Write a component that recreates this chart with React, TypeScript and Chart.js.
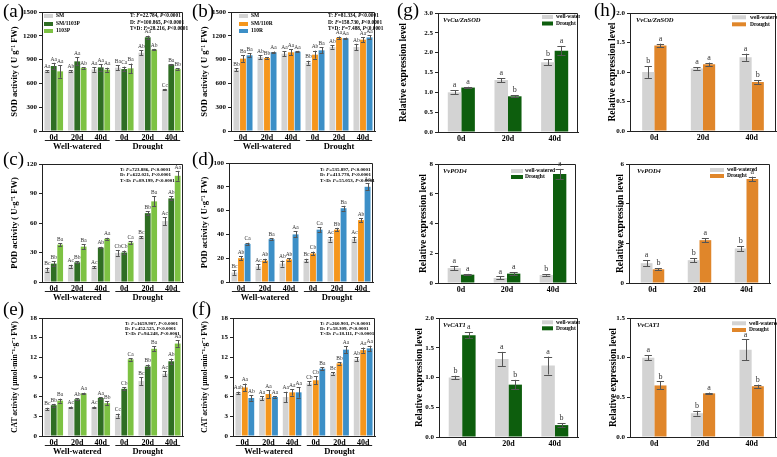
import React, { useEffect, useRef } from "react";
import { Chart, registerables } from "chart.js";
Chart.register(...registerables);

const FONT = "'Liberation Serif', 'Times New Roman', serif";
const AXIS = "#222";
const GRAY = "#d3d3d3";
const DKGREEN = "#2f6e23";
const LTGREEN = "#7dc243";
const ORANGE = "#f5961c";
const BLUE = "#3c8fc7";
const GGREEN = "#0d5e0d";
const HORANGE = "#e0862a";

const CATS6 = ["0d", "20d", "40d", "0d", "20d", "40d"];
const DAYS = ["0d", "20d", "40d"];
const GROUPS = ["Well-watered", "Drought"];

// (a) SOD, SM / SM/1103P / 1103P
const A_SM = [756, 756, 777, 798, 987, 521];
const A_SMP = [819, 878, 802, 781, 1181, 840];
const A_P = [752, 794, 773, 790, 1025, 781];
const A_SM_E = [10, 10, 30, 30, 30, 10];
const A_SMP_E = [40, 50, 40, 30, 20, 5];
const A_P_E = [80, 10, 25, 60, 10, 10];
const A_SM_L = ["Aa", "Ab", "Aa", "Ba", "Ab", "Cc"];
const A_SMP_L = ["Aa", "Aa", "Aa", "Ca", "Aa", "Ba"];
const A_P_L = ["Aa", "Ab", "Aa", "Ba", "Ab", "Bb"];
const A_STATS = ["T: F=22.784, P<0.0001", "D: F=100.865, P<0.0001", "T\u00d7D: F=28.216, P<0.0001"];

// (b) SOD, SM / SM/110R / 110R
const B_SM = [773, 933, 975, 861, 1059, 1059];
const B_SMR = [912, 920, 992, 962, 1176, 1151];
const B_R = [954, 992, 1000, 1017, 1168, 1180];
const B_SM_E = [20, 25, 30, 25, 20, 40];
const B_SMR_E = [40, 10, 40, 50, 15, 30];
const B_R_E = [25, 10, 10, 40, 10, 25];
const B_SM_L = ["Bb", "Ab", "Aa", "Bb", "Ab", "Ab"];
const B_SMR_L = ["Ba", "Bb", "Aa", "Ab", "Aa", "Aa"];
const B_R_L = ["Ba", "Aa", "Aa", "Ba", "Aa", "Aa"];
const B_STATS = ["T: F=81.334, P<0.0001", "D: F=158.730, P<0.0001", "T\u00d7D: F=7.488, P<0.0001"];

// (c) POD
const C_SM = [12.6, 16, 15, 29.6, 45.6, 62];
const C_SMP = [18.7, 20, 35, 30, 70, 85];
const C_P = [38, 36, 44, 40, 82, 108];
const C_SM_E = [2, 1.5, 1, 3, 1, 4];
const C_SMP_E = [2.5, 1, 0.8, 2, 2, 2];
const C_P_E = [1.5, 2.5, 1, 1.5, 5, 5];
const C_SM_L = ["Bc", "Ac", "Ac", "Cb", "Bc", "Ac"];
const C_SMP_L = ["Bb", "Bb", "Ab", "Cb", "Bb", "Ab"];
const C_P_L = ["Ba", "Ba", "Aa", "Ca", "Ba", "Aa"];
const C_STATS = ["T: F=723.886, P<0.0001", "D: F=622.021, P<0.0001", "T\u00d7D: F=89.199, P<0.0001"];

// (d) POD
const D_SM = [8, 13, 15.5, 18, 36, 36];
const D_SMR = [20, 18, 19, 24, 44, 52];
const D_R = [32, 36, 40, 44, 62, 80];
const D_SM_E = [2, 2, 2.5, 1.5, 2, 2];
const D_SMR_E = [1.5, 1.5, 1, 1.5, 1.5, 1.5];
const D_R_E = [1, 1, 2.5, 2, 2, 3];
const D_SM_L = ["Bc", "Ac", "Ab", "Bc", "Ac", "Ac"];
const D_SMR_L = ["Ab", "Ab", "Ab", "Cb", "Bb", "Ab"];
const D_R_L = ["Ca", "Ba", "Aa", "Ca", "Ba", "Aa"];
const D_STATS = ["T: F=535.897, P<0.0001", "D: F=413.778, P<0.0001", "T\u00d7D: F=55.053, P<0.0001"];

// (e) CAT
const E_SM = [4.1, 4.4, 4.4, 3.1, 8.4, 9.5];
const E_SMP = [4.7, 5.6, 5.8, 7.2, 10.6, 11.4];
const E_P = [5.4, 6.5, 5.0, 11.7, 13.3, 14.1];
const E_SM_E = [0.2, 0.1, 0.1, 0.3, 0.6, 0.4];
const E_SMP_E = [0.2, 0.15, 0.15, 0.2, 0.3, 0.4];
const E_P_E = [0.3, 0.1, 0.3, 0.2, 0.4, 0.5];
const E_SM_L = ["Bc", "Ac", "Ac", "Cc", "Bc", "Ac"];
const E_SMP_L = ["Bb", "Ab", "Aa", "Cb", "Bb", "Ab"];
const E_P_L = ["Ba", "Aa", "Bb", "Ca", "Ba", "Aa"];
const E_STATS = ["T: F=1659.907, P<0.0001", "D: F=452.525, P<0.0001", "T\u00d7D: F=94.248, P<0.0001"];

// (f) CAT
const F_SM = [6.56, 5.8, 5.95, 8.03, 9.56, 11.7];
const F_SMR = [7.4, 6.4, 6.66, 8.5, 11.08, 13.1];
const F_R = [5.8, 5.95, 6.66, 10.27, 13.17, 13.37];
const F_SM_E = [0.2, 0.3, 0.8, 0.3, 0.2, 0.3];
const F_SMR_E = [0.6, 0.6, 0.5, 0.6, 0.2, 0.4];
const F_R_E = [0.4, 0.1, 0.8, 0.2, 0.5, 0.4];
const F_SM_L = ["Aab", "Aa", "Aa", "Cb", "Bc", "Ab"];
const F_SMR_L = ["Aa", "Aa", "Aa", "Cb", "Bb", "Aa"];
const F_R_L = ["Ab", "Aa", "Aa", "Ba", "Aa", "Aa"];
const F_STATS = ["T: F=260.903, P<0.0001", "D: F=58.309, P<0.0001", "T\u00d7D: F=18.111, P<0.0001"];

// (g) gene expression, SM/1103P
const G1_WW = [1.0, 1.31, 1.76];
const G1_DR = [1.12, 0.9, 2.05];
const G1_WW_E = [0.05, 0.05, 0.08];
const G1_DR_E = [0.02, 0.03, 0.12];
const G1_WW_L = ["a", "a", "b"];
const G1_DR_L = ["a", "b", "a"];
const G2_WW = [1.0, 0.34, 0.54];
const G2_DR = [0.56, 0.63, 7.32];
const G2_WW_E = [0.15, 0.1, 0.05];
const G2_DR_E = [0.05, 0.1, 0.35];
const G2_WW_L = ["a", "a", "b"];
const G2_DR_L = ["a", "a", "a"];
const G3_WW = [1.0, 1.31, 1.2];
const G3_DR = [1.71, 0.88, 0.2];
const G3_WW_E = [0.03, 0.12, 0.15];
const G3_DR_E = [0.05, 0.08, 0.03];
const G3_WW_L = ["b", "a", "a"];
const G3_DR_L = ["a", "b", "b"];

// (h) gene expression, SM/110R
const H1_WW = [1.0, 1.06, 1.25];
const H1_DR = [1.45, 1.13, 0.83];
const H1_WW_E = [0.1, 0.02, 0.06];
const H1_DR_E = [0.03, 0.03, 0.03];
const H1_WW_L = ["b", "a", "a"];
const H1_DR_L = ["a", "a", "b"];
const H2_WW = [1.0, 1.15, 1.74];
const H2_DR = [0.69, 2.16, 5.24];
const H2_WW_E = [0.15, 0.1, 0.12];
const H2_DR_E = [0.05, 0.1, 0.12];
const H2_WW_L = ["a", "b", "b"];
const H2_DR_L = ["b", "a", "a"];
const H3_WW = [1.0, 0.3, 1.1];
const H3_DR = [0.65, 0.55, 0.64];
const H3_WW_E = [0.03, 0.03, 0.13];
const H3_DR_E = [0.05, 0.01, 0.02];
const H3_WW_L = ["a", "b", "a"];
const H3_DR_L = ["b", "a", "b"];

type Series = { label: string; color: string; data: number[]; err: number[]; letters: string[] };
type Cfg = {
  id: string;
  canvas: number[];
  area: number[];
  labels: string[];
  series: Series[];
  yMax: number;
  yStep: number;
  dec: number;
  yTitle: string;
  yTitleX: number;
  yTitleSize: number;
  groups: boolean;
  catPct: number;
  barPct: number;
  letterSize: number;
  legend?: { x: number; ys: number[]; sw: number; sh: number; tx: number; size: number };
  stats?: { x: number; ys: number[]; lines: string[]; size: number };
  gene?: { x: number; y: number; text: string };
};

function drawRich(ctx: CanvasRenderingContext2D, text: string, x: number, y: number, size: number) {
  const parts = text.split(/(\b[FP](?=[=<]))/);
  let cx = x;
  for (const p of parts) {
    if (!p) continue;
    const it = /^[FP]$/.test(p);
    ctx.font = `${it ? "italic " : ""}bold ${size}px ${FONT}`;
    ctx.fillText(p, cx, y);
    cx += ctx.measureText(p).width;
  }
}

function extras(cfg: Cfg) {
  return {
    id: "extras",
    afterDraw(chart: any) {
      const ctx: CanvasRenderingContext2D = chart.ctx;
      const { left, top, right, bottom } = chart.chartArea;
      const ox = cfg.canvas[0];
      const oy = cfg.canvas[1];
      const ys = chart.scales.y;
      const xs = chart.scales.x;
      ctx.save();
      // frame
      ctx.strokeStyle = AXIS;
      ctx.lineWidth = 1;
      ctx.beginPath();
      ctx.moveTo(left, top + 0.5);
      ctx.lineTo(right - 0.5, top + 0.5);
      ctx.lineTo(right - 0.5, bottom);
      ctx.stroke();
      // error bars & letters
      cfg.series.forEach((s, i) => {
        const meta = chart.getDatasetMeta(i);
        meta.data.forEach((el: any, j: number) => {
          const v = s.data[j];
          const e = s.err[j];
          const yT = ys.getPixelForValue(v + e);
          const yB = ys.getPixelForValue(Math.max(0, v - e));
          const cap = Math.max(2, el.width * 0.3);
          ctx.strokeStyle = "#555";
          ctx.lineWidth = 1;
          ctx.beginPath();
          ctx.moveTo(Math.round(el.x) + 0.5, yT);
          ctx.lineTo(Math.round(el.x) + 0.5, yB);
          ctx.moveTo(el.x - cap, Math.round(yT) + 0.5);
          ctx.lineTo(el.x + cap, Math.round(yT) + 0.5);
          ctx.moveTo(el.x - cap, Math.round(yB) + 0.5);
          ctx.lineTo(el.x + cap, Math.round(yB) + 0.5);
          ctx.stroke();
          ctx.fillStyle = "#333";
          ctx.font = `${cfg.letterSize}px ${FONT}`;
          ctx.textAlign = "center";
          ctx.textBaseline = "bottom";
          ctx.fillText(s.letters[j], el.x, yT - 1);
        });
      });
      // groups
      if (cfg.groups) {
        const cw = xs.width / 6;
        for (let g = 0; g < 2; g++) {
          const x0 = xs.getPixelForValue(3 * g) - cw * 0.38;
          const x1 = xs.getPixelForValue(3 * g + 2) + cw * 0.38;
          ctx.strokeStyle = AXIS;
          ctx.lineWidth = 1;
          ctx.beginPath();
          ctx.moveTo(x0, bottom + 9.5);
          ctx.lineTo(x1, bottom + 9.5);
          ctx.stroke();
          ctx.fillStyle = "#000";
          ctx.font = `bold 8.5px ${FONT}`;
          ctx.textAlign = "center";
          ctx.textBaseline = "middle";
          ctx.fillText(GROUPS[g], (x0 + x1) / 2, bottom + 15.5);
        }
      }
      // legend
      if (cfg.legend) {
        const L = cfg.legend;
        cfg.series.forEach((s, i) => {
          ctx.fillStyle = s.color;
          ctx.fillRect(L.x - ox, L.ys[i] - oy - L.sh / 2, L.sw, L.sh);
          ctx.fillStyle = "#000";
          ctx.font = `bold ${L.size}px ${FONT}`;
          ctx.textAlign = "left";
          ctx.textBaseline = "middle";
          ctx.fillText(s.label, L.tx - ox, L.ys[i] - oy);
        });
      }
      // stats
      if (cfg.stats) {
        const S = cfg.stats;
        ctx.fillStyle = "#000";
        ctx.textAlign = "left";
        ctx.textBaseline = "middle";
        S.lines.forEach((ln, i) => drawRich(ctx, ln, S.x - ox, S.ys[i] - oy, S.size));
      }
      // gene
      if (cfg.gene) {
        ctx.fillStyle = "#000";
        ctx.textAlign = "left";
        ctx.textBaseline = "middle";
        ctx.font = `italic bold 6.5px ${FONT}`;
        ctx.fillText(cfg.gene.text, cfg.gene.x - ox, cfg.gene.y - oy);
      }
      // y title
      ctx.save();
      ctx.translate(cfg.yTitleX - ox, (top + bottom) / 2);
      ctx.rotate(-Math.PI / 2);
      ctx.fillStyle = "#000";
      ctx.font = `bold ${cfg.yTitleSize}px ${FONT}`;
      ctx.textAlign = "center";
      ctx.textBaseline = "middle";
      ctx.fillText(cfg.yTitle, 0, 0);
      ctx.restore();
      ctx.restore();
    },
  };
}

function Panel({ cfg }: { cfg: Cfg }) {
  const ref = useRef<HTMLCanvasElement>(null);
  useEffect(() => {
    const [cl, ct, cw, ch] = cfg.canvas;
    const [L, T, R, B] = cfg.area;
    const chart = new Chart(ref.current as HTMLCanvasElement, {
      type: "bar",
      data: {
        labels: cfg.labels,
        datasets: cfg.series.map((s) => ({
          label: s.label,
          data: s.data,
          backgroundColor: s.color,
          borderWidth: 0,
          categoryPercentage: cfg.catPct,
          barPercentage: cfg.barPct,
        })),
      },
      options: {
        animation: false,
        responsive: false,
        devicePixelRatio: 1,
        layout: { padding: { left: 0, top: T - ct, right: cl + cw - R, bottom: 0 } },
        plugins: { legend: { display: false }, tooltip: { enabled: false } },
        scales: {
          x: {
            grid: { display: false, drawTicks: false, tickLength: 0 },
            border: { display: true, color: AXIS, width: 1 },
            ticks: { color: "#000", font: { family: FONT, size: 8, weight: "bold" }, padding: 2, maxRotation: 0, autoSkip: false },
            afterFit: (s: any) => {
              s.height = ct + ch - B;
            },
          },
          y: {
            min: 0,
            max: cfg.yMax,
            grid: { display: true, drawOnChartArea: false, drawTicks: true, tickLength: 3, color: AXIS },
            border: { display: true, color: AXIS, width: 1 },
            ticks: {
              stepSize: cfg.yStep,
              color: "#000",
              padding: 2,
              font: { family: FONT, size: 7, weight: "bold" },
              callback: (v: any) => Number(v).toFixed(cfg.dec),
            },
            afterFit: (s: any) => {
              s.width = L - cl;
            },
          },
        },
      } as any,
      plugins: [extras(cfg)],
    });
    return () => chart.destroy();
  }, []);
  const [l, t, w, h] = cfg.canvas;
  return <canvas ref={ref} width={w} height={h} style={{ position: "absolute", left: l, top: t, width: w, height: h }} />;
}

const s3 = (labels: string[], colors: string[], d: number[][], e: number[][], lt: string[][]): Series[] =>
  labels.map((lb, i) => ({ label: lb, color: colors[i], data: d[i], err: e[i], letters: lt[i] }));

const LEG_A = ["SM", "SM/1103P", "1103P"];
const LEG_B = ["SM", "SM/110R", "110R"];
const LEG_G = ["well-watered", "Drought"];
const SOD_T = "SOD activity ( U g\u207b\u00b9 FW)";
const POD_T = "POD activity ( U\u00b7g\u207b\u00b9 FW)";
const CAT_T = "CAT activity ( \u03bcmol\u00b7min\u207b\u00b9\u00b7g\u207b\u00b9 FW)";
const REL_T = "Relative expression level";

const base6 = { labels: CATS6, groups: true, catPct: 0.82, barPct: 0.9, letterSize: 5.5, dec: 0, yTitleSize: 8.5 };
const base3 = { labels: DAYS, groups: false, catPct: 0.58, barPct: 1.0, letterSize: 8, yTitleSize: 9.5 };

const PANELS: Cfg[] = [
  {
    ...base6, id: "a", canvas: [0, 0, 190, 150], area: [42, 12, 183, 131], yMax: 1500, yStep: 300,
    yTitle: SOD_T, yTitleX: 15,
    series: s3(LEG_A, [GRAY, DKGREEN, LTGREEN], [A_SM, A_SMP, A_P], [A_SM_E, A_SMP_E, A_P_E], [A_SM_L, A_SMP_L, A_P_L]),
    legend: { x: 44, ys: [16, 24, 31], sw: 9, sh: 4, tx: 56, size: 5.5 },
    stats: { x: 130, ys: [16, 22.5, 29], lines: A_STATS, size: 5.3 },
  },
  {
    ...base6, id: "b", canvas: [190, 0, 195, 150], area: [231, 12, 375, 131], yMax: 1500, yStep: 300,
    yTitle: SOD_T, yTitleX: 205,
    series: s3(LEG_B, [GRAY, ORANGE, BLUE], [B_SM, B_SMR, B_R], [B_SM_E, B_SMR_E, B_R_E], [B_SM_L, B_SMR_L, B_R_L]),
    legend: { x: 239, ys: [16, 24, 31], sw: 9, sh: 4, tx: 251, size: 5.5 },
    stats: { x: 328, ys: [16, 22.5, 29], lines: B_STATS, size: 5.3 },
  },
  {
    ...base6, id: "c", canvas: [0, 150, 190, 152], area: [42, 164, 183, 282], yMax: 120, yStep: 30,
    yTitle: POD_T, yTitleX: 15,
    series: s3(LEG_A, [GRAY, DKGREEN, LTGREEN], [C_SM, C_SMP, C_P], [C_SM_E, C_SMP_E, C_P_E], [C_SM_L, C_SMP_L, C_P_L]),
    stats: { x: 120, ys: [169.5, 175, 180.5], lines: C_STATS, size: 5 },
  },
  {
    ...base6, id: "d", canvas: [190, 150, 195, 152], area: [229, 163, 373, 282], yMax: 100, yStep: 20,
    yTitle: POD_T, yTitleX: 205,
    series: s3(LEG_B, [GRAY, ORANGE, BLUE], [D_SM, D_SMR, D_R], [D_SM_E, D_SMR_E, D_R_E], [D_SM_L, D_SMR_L, D_R_L]),
    stats: { x: 320, ys: [169.5, 175, 180.5], lines: D_STATS, size: 5 },
  },
  {
    ...base6, id: "e", canvas: [0, 302, 190, 155], area: [42, 318, 183, 436], yMax: 18, yStep: 3,
    yTitle: CAT_T, yTitleX: 15, yTitleSize: 7.5,
    series: s3(LEG_A, [GRAY, DKGREEN, LTGREEN], [E_SM, E_SMP, E_P], [E_SM_E, E_SMP_E, E_P_E], [E_SM_L, E_SMP_L, E_P_L]),
    stats: { x: 125, ys: [323.5, 328.5, 333.5], lines: E_STATS, size: 5 },
  },
  {
    ...base6, id: "f", canvas: [190, 302, 195, 155], area: [233, 318, 375, 436], yMax: 18, yStep: 3,
    yTitle: CAT_T, yTitleX: 205, yTitleSize: 7.5,
    series: s3(LEG_B, [GRAY, ORANGE, BLUE], [F_SM, F_SMR, F_R], [F_SM_E, F_SMR_E, F_R_E], [F_SM_L, F_SMR_L, F_R_L]),
    stats: { x: 320, ys: [323.5, 328.5, 333.5], lines: F_STATS, size: 5 },
  },
  {
    ...base3, id: "g1", canvas: [385, 0, 195, 150], area: [438, 13, 578, 132], yMax: 3, yStep: 0.5, dec: 1,
    yTitle: REL_T, yTitleX: 404,
    series: s3(LEG_G, [GRAY, GGREEN], [G1_WW, G1_DR], [G1_WW_E, G1_DR_E], [G1_WW_L, G1_DR_L]),
    legend: { x: 542, ys: [17, 23.5], sw: 11, sh: 4, tx: 556, size: 5.5 },
    gene: { x: 443, y: 20, text: "VvCu/ZnSOD" },
  },
  {
    ...base3, id: "g2", canvas: [385, 150, 195, 150], area: [438, 164, 576, 283], yMax: 8, yStep: 2, dec: 0,
    yTitle: REL_T, yTitleX: 424,
    series: s3(LEG_G, [GRAY, GGREEN], [G2_WW, G2_DR], [G2_WW_E, G2_DR_E], [G2_WW_L, G2_DR_L]),
    legend: { x: 511, ys: [171, 177], sw: 12, sh: 4, tx: 525, size: 5.5 },
    gene: { x: 443, y: 171, text: "VvPOD4" },
  },
  {
    ...base3, id: "g3", canvas: [385, 300, 195, 157], area: [439, 318, 578, 437], yMax: 2, yStep: 0.5, dec: 1,
    yTitle: REL_T, yTitleX: 420,
    series: s3(LEG_G, [GRAY, GGREEN], [G3_WW, G3_DR], [G3_WW_E, G3_DR_E], [G3_WW_L, G3_DR_L]),
    legend: { x: 542, ys: [322.3, 328.3], sw: 11, sh: 4, tx: 556, size: 5.5 },
    gene: { x: 443, y: 325, text: "VvCAT1" },
  },
  {
    ...base3, id: "h1", canvas: [580, 0, 197, 150], area: [630, 13, 776, 131], yMax: 2, yStep: 0.5, dec: 1,
    yTitle: REL_T, yTitleX: 613, catPct: 0.5,
    series: s3(LEG_G, [GRAY, HORANGE], [H1_WW, H1_DR], [H1_WW_E, H1_DR_E], [H1_WW_L, H1_DR_L]),
    legend: { x: 732, ys: [17.3, 24.3], sw: 14, sh: 4, tx: 750, size: 5.5 },
    gene: { x: 636, y: 20, text: "VvCu/ZnSOD" },
  },
  {
    ...base3, id: "h2", canvas: [580, 150, 197, 150], area: [629, 164, 770, 283], yMax: 6, yStep: 2, dec: 0,
    yTitle: REL_T, yTitleX: 621, catPct: 0.5,
    series: s3(LEG_G, [GRAY, HORANGE], [H2_WW, H2_DR], [H2_WW_E, H2_DR_E], [H2_WW_L, H2_DR_L]),
    legend: { x: 710, ys: [170, 176], sw: 14, sh: 4, tx: 727, size: 5.5 },
    gene: { x: 637, y: 171, text: "VvPOD4" },
  },
  {
    ...base3, id: "h3", canvas: [580, 300, 197, 157], area: [630, 318, 776, 437], yMax: 1.5, yStep: 0.5, dec: 1,
    yTitle: REL_T, yTitleX: 614, catPct: 0.5,
    series: s3(LEG_G, [GRAY, HORANGE], [H3_WW, H3_DR], [H3_WW_E, H3_DR_E], [H3_WW_L, H3_DR_L]),
    legend: { x: 732, ys: [323.3, 330], sw: 14, sh: 4, tx: 749, size: 5.5 },
    gene: { x: 637, y: 325, text: "VvCAT1" },
  },
];

const TAGS: [string, number, number][] = [
  ["(a)", 3, 1],
  ["(b)", 192, 1],
  ["(c)", 3, 149],
  ["(d)", 192, 149],
  ["(e)", 3, 299],
  ["(f)", 192, 299],
  ["(g)", 397, 0],
  ["(h)", 594, 0],
];

export default function App() {
  return (
    <div style={{ position: "fixed", left: 0, top: 0, width: 777, height: 457, background: "#fff", overflow: "hidden" }}>
      {PANELS.map((p) => (
        <Panel key={p.id} cfg={p} />
      ))}
      {TAGS.map(([t, x, y]) => (
        <div key={t} style={{ position: "absolute", left: x, top: y, fontFamily: FONT, fontSize: 19, lineHeight: "19px", color: "#000" }}>
          {t}
        </div>
      ))}
    </div>
  );
}
